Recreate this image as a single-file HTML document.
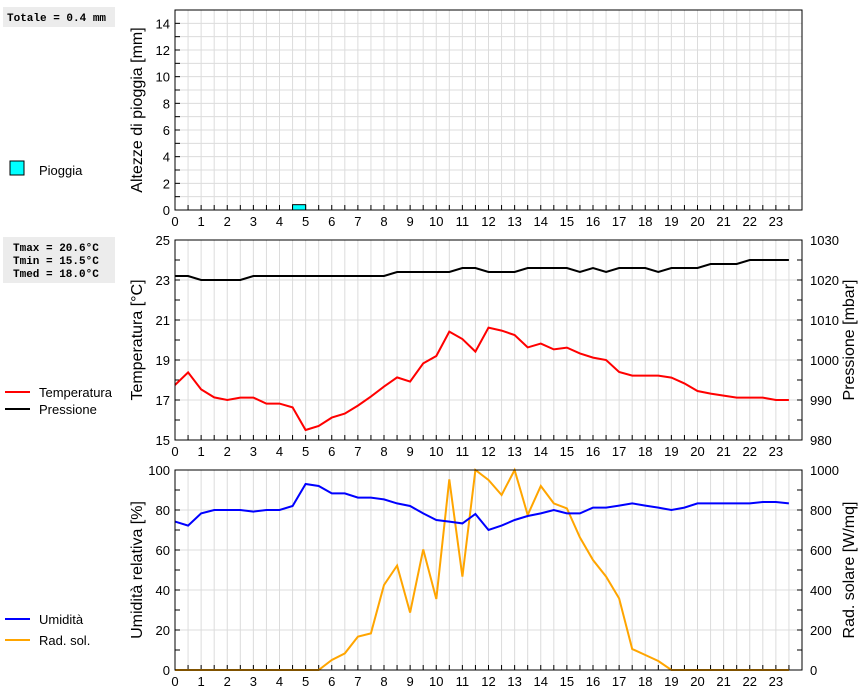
<!DOCTYPE html>
<html><head><meta charset="utf-8"><style>
body{margin:0;background:#fff;width:860px;height:690px;overflow:hidden}
svg text{font-family:"Liberation Sans",sans-serif;fill:#000}
.mono{font-family:"Liberation Mono",monospace;font-weight:bold;font-size:11px}
</style></head><body>
<svg id="c" width="860" height="690" xmlns="http://www.w3.org/2000/svg">
<g>
<rect x="3" y="7" width="112" height="20" fill="#ececec"/>
<text class="mono" x="7" y="21">Totale = 0.4 mm</text>
<rect x="10" y="161" width="14" height="14" fill="#00ffff" stroke="#000"/>
<text x="39" y="175" font-size="13">Pioggia</text>
<rect x="3" y="237" width="112" height="46" fill="#ececec"/>
<text class="mono" x="13" y="251">Tmax = 20.6°C</text>
<text class="mono" x="13" y="264">Tmin = 15.5°C</text>
<text class="mono" x="13" y="277">Tmed = 18.0°C</text>
<line x1="5" y1="392" x2="30" y2="392" stroke="#f00" stroke-width="2"/>
<text x="39" y="397" font-size="13">Temperatura</text>
<line x1="5" y1="409" x2="30" y2="409" stroke="#000" stroke-width="2"/>
<text x="39" y="414" font-size="13">Pressione</text>
<line x1="5" y1="619" x2="30" y2="619" stroke="#00f" stroke-width="2"/>
<text x="39" y="624" font-size="13">Umidità</text>
<line x1="5" y1="640" x2="30" y2="640" stroke="#ffa500" stroke-width="2"/>
<text x="39" y="645" font-size="13">Rad. sol.</text>
</g>
</svg>
<script>
const hours=[];for(let i=0;i<48;i++)hours.push(i/2);
const rainHours=[4.5];
const rainValues=[0.4];
const temperature=[17.75,18.38,17.53,17.13,17.0,17.12,17.12,16.82,16.82,16.63,15.5,15.7,16.12,16.32,16.72,17.17,17.67,18.13,17.92,18.83,19.2,20.42,20.05,19.42,20.62,20.47,20.25,19.63,19.82,19.53,19.62,19.33,19.12,19.0,18.4,18.22,18.22,18.22,18.12,17.83,17.45,17.32,17.22,17.12,17.12,17.12,17.0,17.0];
const pressure=[1021,1021,1020,1020,1020,1020,1021,1021,1021,1021,1021,1021,1021,1021,1021,1021,1021,1022,1022,1022,1022,1022,1023,1023,1022,1022,1022,1023,1023,1023,1023,1022,1023,1022,1023,1023,1023,1022,1023,1023,1023,1024,1024,1024,1025,1025,1025,1025];
const humidity=[74.2,72.2,78.3,80,80,80,79.2,80,80,82,93,92,88.3,88.3,86.2,86.2,85.3,83.3,82,78.3,75,74.2,73.3,78,70,72.2,75,77,78.3,80,78.3,78.3,81.2,81.2,82.2,83.3,82.2,81.2,80,81.2,83.3,83.3,83.3,83.3,83.3,84,84,83.3];
const solar=[0,0,0,0,0,0,0,0,0,0,0,0,50,83,167,183,425,522,287,603,355,953,467,1000,950,875,1000,775,920,833,808,663,550,467,358,105,75,45,0,0,0,0,0,0,0,0,0,0];
const xTicks=[];for(let i=0;i<24;i++)xTicks.push(i);
const rainTicks=[0,2,4,6,8,10,12,14];
const tempTicks=[15,17,19,21,23,25];
const presTicks=[980,990,1000,1010,1020,1030];
const humTicks=[0,20,40,60,80,100];
const solTicks=[0,200,400,600,800,1000];

const svg=document.getElementById('c');const NS='http://www.w3.org/2000/svg';
const X0=175,X1=802;
function x(h){return X0+h*(X1-X0)/24;}
function mk(tag,attrs,parent){const e=document.createElementNS(NS,tag);for(const k in attrs)e.setAttribute(k,attrs[k]);(parent||svg).appendChild(e);return e;}
function scale(d0,d1,top,bot){return v=>bot-(v-d0)/(d1-d0)*(bot-top);}
function panel(name,top,bot,d0,d1,minorStep,gridStep,ticks,rd,rticks,ltitle,rtitle){
  const g=mk('g',{});
  
  
  const y=scale(d0,d1,top,bot);
  for(let v=d0;v<=d1+1e-9;v+=gridStep){const l=mk('line',{x1:X0,x2:X1,y1:y(v),y2:y(v),stroke:'#dcdcdc'},g);}
  for(let h=0.5;h<24;h+=0.5){const l=mk('line',{x1:x(h),x2:x(h),y1:top,y2:bot,stroke:'#dcdcdc'},g);}
  for(let h=0.5;h<24;h+=0.5){const l=mk('line',{x1:x(h),x2:x(h),y1:bot,y2:bot-5,stroke:'#000'},g);}
  for(let v=d0;v<=d1+1e-9;v+=minorStep){const l=mk('line',{x1:X0,x2:X0+5,y1:y(v),y2:y(v),stroke:'#000'},g);}
  xTicks.forEach(h=>{const t=mk('text',{x:x(h),y:bot+16,'font-size':13,'text-anchor':'middle'},g);t.textContent=h;});
  ticks.forEach(v=>{const t=mk('text',{x:X0-5,y:y(v)+5,'font-size':13,'text-anchor':'end'},g);t.textContent=v;});
  const lt=mk('text',{x:0,y:0,'font-size':16,'text-anchor':'middle',transform:`translate(142,${(top+bot)/2}) rotate(-90)`},g);lt.textContent=ltitle;
  
  
  let yr=null;
  if(rd){yr=scale(rd[0],rd[1],top,bot);
    const rs=(rd[1]-rd[0])/10;
    for(let v=rd[0];v<=rd[1]+1e-9;v+=rs){const l=mk('line',{x1:X1,x2:X1-5,y1:yr(v),y2:yr(v),stroke:'#000'},g);}
    rticks.forEach(v=>{const t=mk('text',{x:X1+8,y:yr(v)+5,'font-size':13},g);t.textContent=v;});
    const rt=mk('text',{x:0,y:0,'font-size':16,'text-anchor':'middle',transform:`translate(854,${(top+bot)/2}) rotate(-90)`},g);rt.textContent=rtitle;
    
    }
  return {g,y,yr,top,bot};
}
function line(p,ys,vals,color,name){
  const pts=vals.map((v,i)=>x(hours[i]).toFixed(1)+','+ys(v).toFixed(1)).join(' ');
  const pl=mk('polyline',{points:pts,fill:'none',stroke:color,'stroke-width':2},p.g);
  
  
}
function frame(p){const r=mk('rect',{x:X0,y:p.top,width:X1-X0,height:p.bot-p.top,fill:'none',stroke:'#000'},p.g);}

const p1=panel('rain',10,210,0,15,1,1,rainTicks,null,null,'Altezze di pioggia [mm]');
rainHours.forEach((h,i)=>{const r=mk('rect',{x:x(h),y:p1.y(rainValues[i]),width:x(h+0.5)-x(h),height:p1.y(0)-p1.y(rainValues[i]),fill:'#00ffff',stroke:'#000'},p1.g);

});
frame(p1);

const p2=panel('temperature',240,440,15,25,1,2,tempTicks,[980,1030],presTicks,'Temperatura [°C]','Pressione [mbar]');
line(p2,p2.yr,pressure,'#000','pressure-line');
line(p2,p2.y,temperature,'#f00','temperature-line');
frame(p2);

const p3=panel('humidity',470,670,0,100,10,20,humTicks,[0,1000],solTicks,'Umidità relativa [%]','Rad. solare [W/mq]');
const cp=mk('clipPath',{id:'clip3'});mk('rect',{x:X0,y:470,width:X1-X0,height:200},cp);
line(p3,p3.yr,solar,'#ffa500','solar-line');
line(p3,p3.y,humidity,'#00f','humidity-line');
frame(p3);
</script>
</body></html>
